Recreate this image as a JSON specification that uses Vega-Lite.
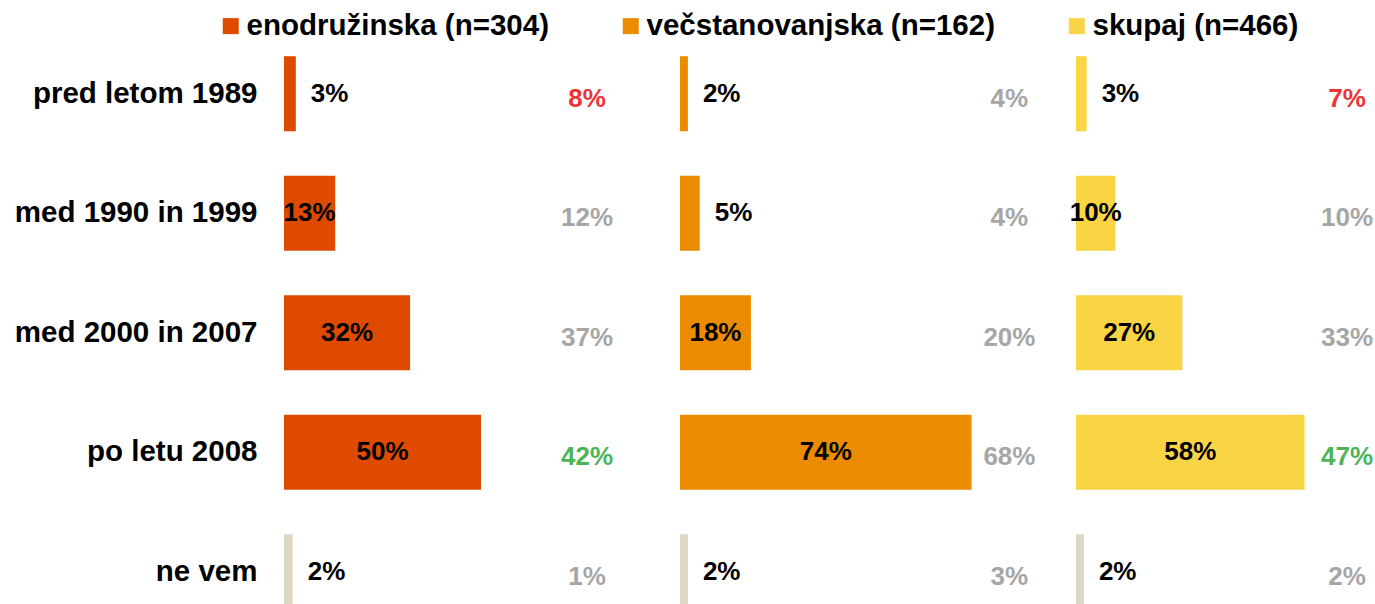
{
  "$schema": "https://vega.github.io/schema/vega-lite/v6.json",
  "background": "white",
  "padding": {"left": 14, "top": 11, "right": 0, "bottom": 0},
  "bounds": "flush",
  "datasets": {
    "podatki": [
      {"skupina": "enodružinska (n=304)", "kategorija": "pred letom 1989", "delez": 0.03, "primerjava": 0.08, "razlika": "manj"},
      {"skupina": "enodružinska (n=304)", "kategorija": "med 1990 in 1999", "delez": 0.13, "primerjava": 0.12, "razlika": "podobno"},
      {"skupina": "enodružinska (n=304)", "kategorija": "med 2000 in 2007", "delez": 0.32, "primerjava": 0.37, "razlika": "podobno"},
      {"skupina": "enodružinska (n=304)", "kategorija": "po letu 2008", "delez": 0.50, "primerjava": 0.42, "razlika": "vec"},
      {"skupina": "enodružinska (n=304)", "kategorija": "ne vem", "delez": 0.022, "primerjava": 0.01, "razlika": "podobno"},
      {"skupina": "večstanovanjska (n=162)", "kategorija": "pred letom 1989", "delez": 0.02, "primerjava": 0.04, "razlika": "podobno"},
      {"skupina": "večstanovanjska (n=162)", "kategorija": "med 1990 in 1999", "delez": 0.05, "primerjava": 0.04, "razlika": "podobno"},
      {"skupina": "večstanovanjska (n=162)", "kategorija": "med 2000 in 2007", "delez": 0.18, "primerjava": 0.20, "razlika": "podobno"},
      {"skupina": "večstanovanjska (n=162)", "kategorija": "po letu 2008", "delez": 0.74, "primerjava": 0.68, "razlika": "podobno"},
      {"skupina": "večstanovanjska (n=162)", "kategorija": "ne vem", "delez": 0.02, "primerjava": 0.03, "razlika": "podobno"},
      {"skupina": "skupaj (n=466)", "kategorija": "pred letom 1989", "delez": 0.027, "primerjava": 0.07, "razlika": "manj"},
      {"skupina": "skupaj (n=466)", "kategorija": "med 1990 in 1999", "delez": 0.10, "primerjava": 0.10, "razlika": "podobno"},
      {"skupina": "skupaj (n=466)", "kategorija": "med 2000 in 2007", "delez": 0.27, "primerjava": 0.33, "razlika": "podobno"},
      {"skupina": "skupaj (n=466)", "kategorija": "po letu 2008", "delez": 0.58, "primerjava": 0.47, "razlika": "vec"},
      {"skupina": "skupaj (n=466)", "kategorija": "ne vem", "delez": 0.02, "primerjava": 0.02, "razlika": "podobno"}
    ]
  },
  "spacing": 30,
  "hconcat": [
    {
      "width": 366,
      "height": 570,
      "data": {"name": "podatki"},
      "transform": [{"filter": "datum.skupina === 'enodružinska (n=304)'"}],
      "encoding": {
        "y": {
          "field": "kategorija", "type": "nominal",
          "sort": ["pred letom 1989", "med 1990 in 1999", "med 2000 in 2007", "po letu 2008", "ne vem"],
          "scale": {"range": [0, 597.5], "paddingInner": 0.372, "paddingOuter": 0.186},
          "axis": {"title": null, "domain": false, "ticks": false, "labelFontSize": 29.5, "labelFont": "Liberation Sans", "labelFontWeight": "bold", "labelColor": "black", "labelPadding": 27, "labelLimit": 500}
        }
      },
      "layer": [
        {
          "mark": {"type": "bar", "clip": true},
          "encoding": {
            "x": {"field": "delez", "type": "quantitative", "scale": {"domain": [0, 0.9289], "nice": false}, "axis": null},
            "color": {
              "condition": {"test": "datum.kategorija === 'ne vem'", "value": "#DDD8C3"},
              "field": "skupina", "type": "nominal",
              "scale": {"domain": ["enodružinska (n=304)", "večstanovanjska (n=162)", "skupaj (n=466)"], "range": ["#DD4A00", "#EA8B00", "#F9D545"]},
              "legend": {"orient": "none", "legendX": -68, "legendY": -23, "direction": "horizontal", "columns": 3, "title": null, "symbolType": "square", "symbolSize": 256, "symbolStrokeWidth": 0, "symbolOpacity": 1, "labelFontSize": 29.5, "labelFont": "Liberation Sans", "labelFontWeight": "bold", "labelColor": "black", "labelOffset": 1, "columnPadding": 67, "padding": 0, "labelLimit": 500}
            }
          }
        },
        {
          "transform": [{"filter": "datum.delez < 0.1"}],
          "mark": {"type": "text", "align": "left", "baseline": "middle", "dx": 15, "font": "Liberation Sans", "fontWeight": "bold", "fontSize": 26, "color": "black"},
          "encoding": {
            "x": {"field": "delez", "type": "quantitative", "scale": {"domain": [0, 0.9289], "nice": false}, "axis": null},
            "text": {"field": "delez", "type": "quantitative", "format": ".0%"}
          }
        },
        {
          "transform": [{"filter": "datum.delez >= 0.1"}],
          "mark": {"type": "text", "align": "center", "baseline": "middle", "font": "Liberation Sans", "fontWeight": "bold", "fontSize": 26, "color": "black"},
          "encoding": {
            "x": {"field": "delez", "type": "quantitative", "scale": {"domain": [0, 1.8579], "nice": false}, "axis": null},
            "text": {"field": "delez", "type": "quantitative", "format": ".0%"}
          }
        },
        {
          "mark": {"type": "text", "align": "center", "baseline": "middle", "dy": 5, "font": "Liberation Sans", "fontWeight": "bold", "fontSize": 26},
          "encoding": {
            "x": {"datum": 0.769, "type": "quantitative", "scale": {"domain": [0, 0.9289], "nice": false}, "axis": null},
            "text": {"field": "primerjava", "type": "quantitative", "format": ".0%"},
            "color": {"condition": [{"test": "datum.razlika === 'manj'", "value": "#EE3338"}, {"test": "datum.razlika === 'vec'", "value": "#4CB556"}], "value": "#A6A6A6"}
          }
        }
      ],
      "resolve": {"scale": {"x": "independent"}}
    },
    {
      "width": 366,
      "height": 570,
      "data": {"name": "podatki"},
      "transform": [{"filter": "datum.skupina === 'večstanovanjska (n=162)'"}],
      "encoding": {
        "y": {
          "field": "kategorija", "type": "nominal",
          "sort": ["pred letom 1989", "med 1990 in 1999", "med 2000 in 2007", "po letu 2008", "ne vem"],
          "scale": {"range": [0, 597.5], "paddingInner": 0.372, "paddingOuter": 0.186},
          "axis": null
        }
      },
      "layer": [
        {
          "mark": {"type": "bar", "clip": true},
          "encoding": {
            "x": {"field": "delez", "type": "quantitative", "scale": {"domain": [0, 0.9289], "nice": false}, "axis": null},
            "color": {
              "condition": {"test": "datum.kategorija === 'ne vem'", "value": "#DDD8C3"},
              "field": "skupina", "type": "nominal",
              "scale": {"domain": ["enodružinska (n=304)", "večstanovanjska (n=162)", "skupaj (n=466)"], "range": ["#DD4A00", "#EA8B00", "#F9D545"]},
              "legend": {"orient": "none", "legendX": -68, "legendY": -23, "direction": "horizontal", "columns": 3, "title": null, "symbolType": "square", "symbolSize": 256, "symbolStrokeWidth": 0, "symbolOpacity": 1, "labelFontSize": 29.5, "labelFont": "Liberation Sans", "labelFontWeight": "bold", "labelColor": "black", "labelOffset": 1, "columnPadding": 67, "padding": 0, "labelLimit": 500}
            }
          }
        },
        {
          "transform": [{"filter": "datum.delez < 0.1"}],
          "mark": {"type": "text", "align": "left", "baseline": "middle", "dx": 15, "font": "Liberation Sans", "fontWeight": "bold", "fontSize": 26, "color": "black"},
          "encoding": {
            "x": {"field": "delez", "type": "quantitative", "scale": {"domain": [0, 0.9289], "nice": false}, "axis": null},
            "text": {"field": "delez", "type": "quantitative", "format": ".0%"}
          }
        },
        {
          "transform": [{"filter": "datum.delez >= 0.1"}],
          "mark": {"type": "text", "align": "center", "baseline": "middle", "font": "Liberation Sans", "fontWeight": "bold", "fontSize": 26, "color": "black"},
          "encoding": {
            "x": {"field": "delez", "type": "quantitative", "scale": {"domain": [0, 1.8579], "nice": false}, "axis": null},
            "text": {"field": "delez", "type": "quantitative", "format": ".0%"}
          }
        },
        {
          "mark": {"type": "text", "align": "center", "baseline": "middle", "dy": 5, "font": "Liberation Sans", "fontWeight": "bold", "fontSize": 26},
          "encoding": {
            "x": {"datum": 0.836, "type": "quantitative", "scale": {"domain": [0, 0.9289], "nice": false}, "axis": null},
            "text": {"field": "primerjava", "type": "quantitative", "format": ".0%"},
            "color": {"condition": [{"test": "datum.razlika === 'manj'", "value": "#EE3338"}, {"test": "datum.razlika === 'vec'", "value": "#4CB556"}], "value": "#A6A6A6"}
          }
        }
      ],
      "resolve": {"scale": {"x": "independent"}}
    },
    {
      "width": 299,
      "height": 570,
      "data": {"name": "podatki"},
      "transform": [{"filter": "datum.skupina === 'skupaj (n=466)'"}],
      "encoding": {
        "y": {
          "field": "kategorija", "type": "nominal",
          "sort": ["pred letom 1989", "med 1990 in 1999", "med 2000 in 2007", "po letu 2008", "ne vem"],
          "scale": {"range": [0, 597.5], "paddingInner": 0.372, "paddingOuter": 0.186},
          "axis": null
        }
      },
      "layer": [
        {
          "mark": {"type": "bar", "clip": true},
          "encoding": {
            "x": {"field": "delez", "type": "quantitative", "scale": {"domain": [0, 0.7589], "nice": false}, "axis": null},
            "color": {
              "condition": {"test": "datum.kategorija === 'ne vem'", "value": "#DDD8C3"},
              "field": "skupina", "type": "nominal",
              "scale": {"domain": ["enodružinska (n=304)", "večstanovanjska (n=162)", "skupaj (n=466)"], "range": ["#DD4A00", "#EA8B00", "#F9D545"]},
              "legend": {"orient": "none", "legendX": -68, "legendY": -23, "direction": "horizontal", "columns": 3, "title": null, "symbolType": "square", "symbolSize": 256, "symbolStrokeWidth": 0, "symbolOpacity": 1, "labelFontSize": 29.5, "labelFont": "Liberation Sans", "labelFontWeight": "bold", "labelColor": "black", "labelOffset": 1, "columnPadding": 67, "padding": 0, "labelLimit": 500}
            }
          }
        },
        {
          "transform": [{"filter": "datum.delez < 0.1"}],
          "mark": {"type": "text", "align": "left", "baseline": "middle", "dx": 15, "font": "Liberation Sans", "fontWeight": "bold", "fontSize": 26, "color": "black"},
          "encoding": {
            "x": {"field": "delez", "type": "quantitative", "scale": {"domain": [0, 0.7589], "nice": false}, "axis": null},
            "text": {"field": "delez", "type": "quantitative", "format": ".0%"}
          }
        },
        {
          "transform": [{"filter": "datum.delez >= 0.1"}],
          "mark": {"type": "text", "align": "center", "baseline": "middle", "font": "Liberation Sans", "fontWeight": "bold", "fontSize": 26, "color": "black"},
          "encoding": {
            "x": {"field": "delez", "type": "quantitative", "scale": {"domain": [0, 1.5178], "nice": false}, "axis": null},
            "text": {"field": "delez", "type": "quantitative", "format": ".0%"}
          }
        },
        {
          "mark": {"type": "text", "align": "center", "baseline": "middle", "dy": 5, "font": "Liberation Sans", "fontWeight": "bold", "fontSize": 26},
          "encoding": {
            "x": {"datum": 0.688, "type": "quantitative", "scale": {"domain": [0, 0.7589], "nice": false}, "axis": null},
            "text": {"field": "primerjava", "type": "quantitative", "format": ".0%"},
            "color": {"condition": [{"test": "datum.razlika === 'manj'", "value": "#EE3338"}, {"test": "datum.razlika === 'vec'", "value": "#4CB556"}], "value": "#A6A6A6"}
          }
        }
      ],
      "resolve": {"scale": {"x": "independent"}}
    }
  ],
  "config": {
    "view": {"stroke": null},
    "font": "Liberation Sans"
  }
}
